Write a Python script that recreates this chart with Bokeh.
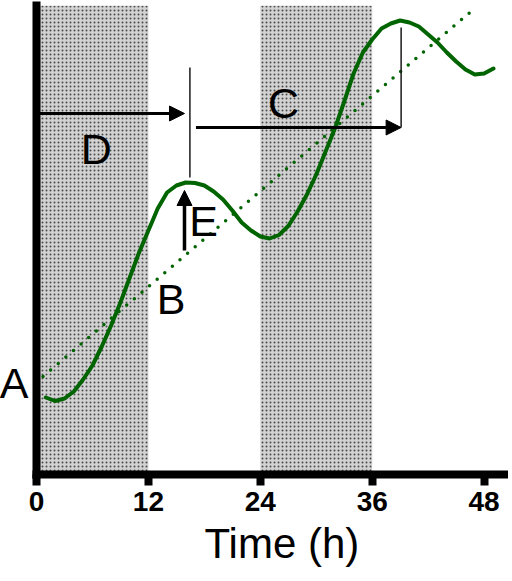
from bokeh.plotting import figure
from bokeh.models import Arrow, NormalHead, FixedTicker, Title, Range1d
from bokeh.core.properties import value
from bokeh.embed import file_html
from bokeh.resources import INLINE

# ---- data ----
curve_t = [1, 2, 3, 4, 5, 6, 7, 8, 9, 10, 11, 12, 13, 14, 15, 16, 17, 18, 19, 20,
           21, 22, 23, 24, 25, 26, 27, 28, 29, 30, 31, 32, 33, 34, 35, 36, 37, 38,
           39, 40, 41, 42, 43, 44, 45, 46, 47, 48, 49]
curve_y = [7.7, 7.35, 7.6, 8.3, 9.5, 10.9, 12.8, 14.9, 17.2, 19.7, 22.2, 24.4, 26.6,
           28.2, 28.9, 29.2, 29.15, 28.9, 28.3, 27.5, 26.4, 25.2, 24.4, 23.8, 23.6,
           23.95, 24.85, 26.3, 28.0, 30.0, 32.3, 34.6, 37.3, 40.1, 42.2, 43.5, 44.6,
           45.1, 45.4, 45.2, 44.8, 44.0, 43.2, 42.2, 41.3, 40.5, 40.0, 40.1, 40.6]

trend_t = [0.7, 47.1]
trend_y = [9.8, 46.7]

x_ticks = [0, 12, 24, 36, 48]
a_level = 9.2          # trend value at t = 0, marked "A"

dark_start = [0, 24]
dark_end = [12, 36]

label_text = ["B", "C", "D", "E"]
label_t = [14.42, 26.5, 6.42, 17.93]
label_y = [17.6, 37.15, 32.55, 25.4]

peak_t = [16.45, 39.1]
peak_line_bottom = [29.7, 34.7]
peak_line_top = [40.7, 44.7]

X_MAX = 50.4
Y_MAX = 46.9
GREEN = "#006400"
FONT = "Liberation Sans"

p = figure(width=512, height=581, x_range=Range1d(0, X_MAX), y_range=Range1d(0, Y_MAX),
           output_backend="svg", toolbar_location=None,
           min_border_left=38, min_border_right=2, min_border_top=5, min_border_bottom=107,
           margin=(0, -4, -4, -4))
p.outline_line_color = None
p.grid.visible = False
p.background_fill_color = "white"
p.border_fill_color = "white"

# shaded (dark) periods
p.quad(left=dark_start, right=dark_end, bottom=0, top=Y_MAX,
       fill_color="#d2d2d2", line_color=None,
       hatch_pattern="dot", hatch_color="#4a4a4a", hatch_scale=4, hatch_weight=1.3)

# trend line
p.line(trend_t, trend_y, line_color=GREEN, line_width=3.5, line_dash="0 10", line_cap="round")

# rhythm curve
p.line(curve_t, curve_y, line_color=GREEN, line_width=4, line_join="round", line_cap="round")

# thin vertical markers at peaks
p.segment(x0=peak_t, y0=peak_line_bottom, x1=peak_t, y1=peak_line_top,
          line_color="#1a1a1a", line_width=1.5)

# arrows
def head():
    return NormalHead(size=15, fill_color="black", line_color="black", line_width=1)

p.add_layout(Arrow(end=head(), x_start=0.3, y_start=36.1, x_end=15.87, y_end=36.1,
                   line_width=3, line_color="black"))
p.add_layout(Arrow(end=head(), x_start=17.1, y_start=34.7, x_end=39.1, y_end=34.7,
                   line_width=3, line_color="black"))
p.add_layout(Arrow(end=head(), x_start=15.87, y_start=22.4, x_end=15.87, y_end=28.4,
                   line_width=3.5, line_color="black"))

# letter labels
p.text(x=label_t, y=label_y, text=label_text, text_font=value(FONT), text_font_size="43px",
       text_align="center", text_baseline="middle", text_color="black")

# x axis
xa = p.xaxis[0]
xa.ticker = FixedTicker(ticks=x_ticks)
xa.axis_line_width = 8
xa.axis_line_cap = "square"
xa.major_tick_in = 0
xa.major_tick_out = 11
xa.major_tick_line_width = 8
xa.minor_tick_line_color = None
xa.major_label_standoff = 6
xa.major_label_text_font = FONT
xa.major_label_text_font_size = "28px"
xa.major_label_text_font_style = "bold"
xa.major_label_text_color = "black"

# y axis
ya = p.yaxis[0]
ya.ticker = FixedTicker(ticks=[a_level])
ya.major_label_overrides = {a_level: "A"}
ya.axis_line_width = 8
ya.axis_line_cap = "square"
ya.major_tick_line_color = None
ya.major_tick_in = 0
ya.major_tick_out = 0
ya.minor_tick_line_color = None
ya.major_label_standoff = 8
ya.major_label_text_font = FONT
ya.major_label_text_font_size = "43px"
ya.major_label_text_color = "black"
ya.major_label_orientation = "horizontal"

p.add_layout(Title(text="Time (h)", align="left", offset=168, text_font=FONT,
                   text_font_size="42px", text_font_style="normal", text_color="black",
                   standoff=8), "below")

open("out.html", "w").write(file_html(p, INLINE))
